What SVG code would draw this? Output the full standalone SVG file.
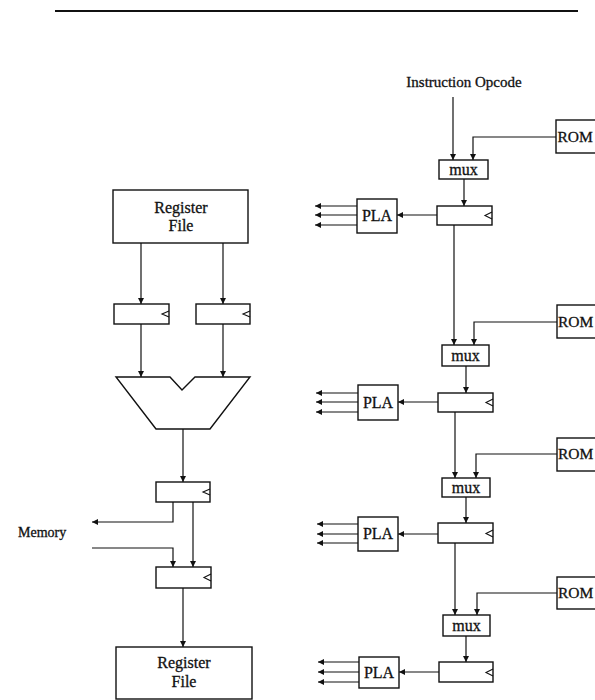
<svg xmlns="http://www.w3.org/2000/svg" width="595" height="700" viewBox="0 0 595 700">
<defs>
<marker id="ah" markerUnits="userSpaceOnUse" markerWidth="8" markerHeight="8" refX="6" refY="3" orient="auto">
<path d="M0,0 L6,3 L0,6 Z" fill="#111"/>
</marker>
<style>
.box{fill:#fff;stroke:#111;stroke-width:1.4}
.ar{fill:none;stroke:#111;stroke-width:1.2;marker-end:url(#ah)}
.clk{fill:none;stroke:#111;stroke-width:1.1}
.t{font-family:"Liberation Serif","Times New Roman",serif;font-size:16px;fill:#111;stroke:#111;stroke-width:0.3;text-anchor:middle}
.tl{font-family:"Liberation Serif","Times New Roman",serif;font-size:15.5px;fill:#111;stroke:#111;stroke-width:0.3}
</style>
</defs>
<rect width="595" height="700" fill="#fff"/>
<line x1="55" y1="11" x2="578" y2="11" stroke="#111" stroke-width="1.8"/>

<g id="connectors">
<line class="ar" x1="141" y1="243" x2="141" y2="304"/>
<line class="ar" x1="223" y1="243" x2="223" y2="304"/>
<line class="ar" x1="141" y1="324" x2="141" y2="377"/>
<line class="ar" x1="223" y1="324" x2="223" y2="377"/>
<line class="ar" x1="183" y1="429" x2="183" y2="482"/>
<polyline class="ar" points="173,502 173,522 92,522"/>
<line class="ar" x1="193" y1="502" x2="193" y2="567"/>
<polyline class="ar" points="92,548 173,548 173,567"/>
<line class="ar" x1="183" y1="588" x2="183" y2="647"/>
<line class="ar" x1="453" y1="97" x2="453" y2="160"/>
<polyline class="ar" points="556,137 473,137 473,160"/>
<line class="ar" x1="464" y1="179" x2="464" y2="206"/>
<line class="ar" x1="437" y1="215" x2="397" y2="215"/>
<line class="ar" x1="357" y1="206" x2="315" y2="206"/>
<line class="ar" x1="357" y1="215" x2="315" y2="215"/>
<line class="ar" x1="357" y1="225" x2="315" y2="225"/>
<line class="ar" x1="454" y1="225" x2="454" y2="345"/>
<polyline class="ar" points="557,322 474,322 474,345"/>
<line class="ar" x1="466" y1="366" x2="466" y2="393"/>
<line class="ar" x1="438" y1="402" x2="398" y2="402"/>
<line class="ar" x1="358" y1="393" x2="316" y2="393"/>
<line class="ar" x1="358" y1="402" x2="316" y2="402"/>
<line class="ar" x1="358" y1="412" x2="316" y2="412"/>
<line class="ar" x1="455" y1="412" x2="455" y2="478"/>
<polyline class="ar" points="557,454 476,454 476,478"/>
<line class="ar" x1="466" y1="497" x2="466" y2="523"/>
<line class="ar" x1="438" y1="534" x2="398" y2="534"/>
<line class="ar" x1="358" y1="524" x2="317" y2="524"/>
<line class="ar" x1="358" y1="534" x2="317" y2="534"/>
<line class="ar" x1="358" y1="543" x2="317" y2="543"/>
<line class="ar" x1="455" y1="543" x2="455" y2="615"/>
<polyline class="ar" points="557,593 477,593 477,615"/>
<line class="ar" x1="466" y1="636" x2="466" y2="662"/>
<line class="ar" x1="439" y1="672" x2="399" y2="672"/>
<line class="ar" x1="359" y1="662" x2="318" y2="662"/>
<line class="ar" x1="359" y1="672" x2="318" y2="672"/>
<line class="ar" x1="359" y1="682" x2="318" y2="682"/>
</g>

<g id="regfile-top">
<rect class="box" x="113" y="190" width="135" height="53"/>
<text class="t" x="181" y="213">Register</text>
<text class="t" x="181" y="231">File</text>
</g>
<g id="reg-a">
<rect class="box" x="114" y="304" width="55" height="20"/>
<polyline class="clk" points="169,311 162,314 169,317"/>
</g>
<g id="reg-b">
<rect class="box" x="196" y="304" width="54" height="20"/>
<polyline class="clk" points="250,311 243,314 250,317"/>
</g>
<g id="alu">
<polygon class="box" points="116,377 170,377 182,390 195,377 250,377 210,429 156,429"/>
</g>
<g id="reg-out">
<rect class="box" x="156" y="482" width="54" height="20"/>
<polyline class="clk" points="210,489 203,492 210,495"/>
</g>
<g id="reg-wb">
<rect class="box" x="156" y="567" width="55" height="21"/>
<polyline class="clk" points="211,574 204,577.5 211,581"/>
</g>
<g id="regfile-bottom">
<rect class="box" x="116" y="647" width="136" height="52"/>
<text class="t" x="184" y="668">Register</text>
<text class="t" x="184" y="687">File</text>
</g>
<g id="memory">
<text class="tl" x="18" y="537" style="font-size:14px">Memory</text>
</g>

<g id="opcode">
<text class="t" x="464" y="87" style="font-size:15px">Instruction Opcode</text>
</g>

<g id="rom1"><rect class="box" x="556" y="120" width="50" height="33"/><text class="tl" x="557.5" y="142">ROM</text></g>
<g id="mux1"><rect class="box" x="439" y="160" width="49" height="19"/><text class="t" x="463.5" y="175">mux</text></g>
<g id="reg1"><rect class="box" x="437" y="206" width="55" height="19"/><polyline class="clk" points="492,212 485,215.5 492,219"/></g>
<g id="pla1"><rect class="box" x="357" y="199" width="40" height="34"/><text class="t" x="377" y="221">PLA</text></g>

<g id="rom2"><rect class="box" x="557" y="305" width="50" height="33"/><text class="tl" x="558" y="327">ROM</text></g>
<g id="mux2"><rect class="box" x="442" y="345" width="47" height="21"/><text class="t" x="465.5" y="361">mux</text></g>
<g id="reg2"><rect class="box" x="438" y="393" width="55" height="19"/><polyline class="clk" points="493,399 486,402.5 493,406"/></g>
<g id="pla2"><rect class="box" x="358" y="385" width="40" height="35"/><text class="t" x="378" y="408">PLA</text></g>

<g id="rom3"><rect class="box" x="557" y="438" width="50" height="33"/><text class="tl" x="558" y="459">ROM</text></g>
<g id="mux3"><rect class="box" x="442" y="478" width="48" height="19"/><text class="t" x="466" y="493">mux</text></g>
<g id="reg3"><rect class="box" x="438" y="523" width="55" height="20"/><polyline class="clk" points="493,530 486,533.5 493,537"/></g>
<g id="pla3"><rect class="box" x="358" y="517" width="40" height="34"/><text class="t" x="378" y="539">PLA</text></g>

<g id="rom4"><rect class="box" x="557" y="577" width="50" height="32"/><text class="tl" x="558" y="598">ROM</text></g>
<g id="mux4"><rect class="box" x="443" y="615" width="47" height="21"/><text class="t" x="466.5" y="631">mux</text></g>
<g id="reg4"><rect class="box" x="439" y="662" width="54" height="20"/><polyline class="clk" points="493,669 486,672.5 493,676"/></g>
<g id="pla4"><rect class="box" x="359" y="657" width="40" height="31"/><text class="t" x="379" y="678">PLA</text></g>
</svg>
